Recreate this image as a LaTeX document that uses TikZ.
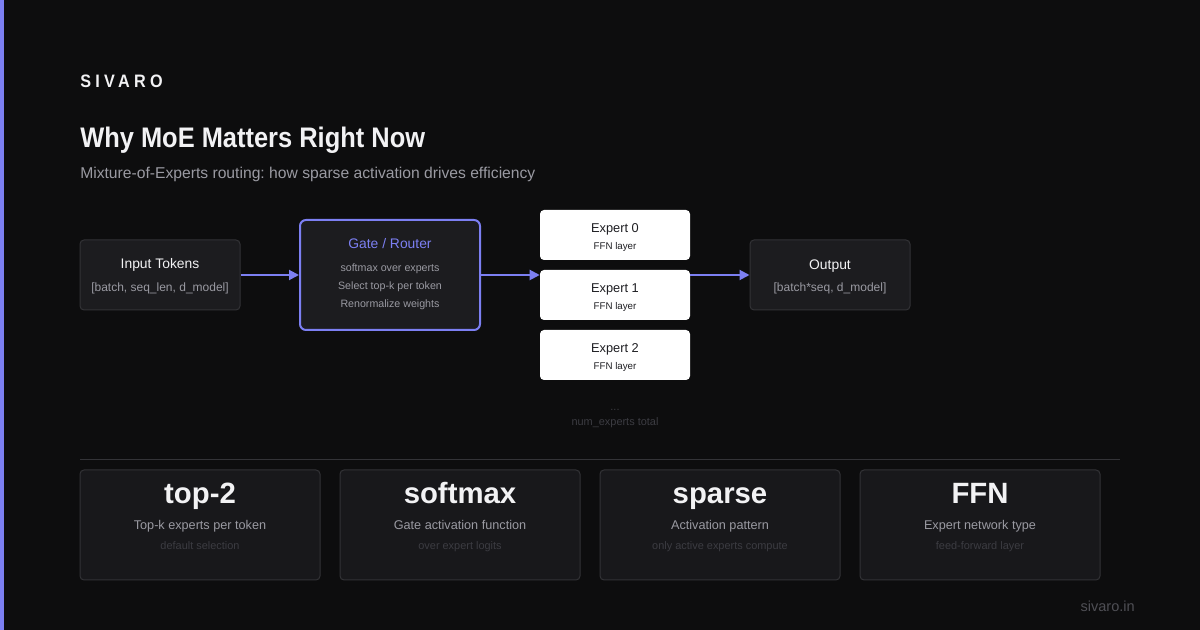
\documentclass[tikz,border=0pt]{standalone}
\usepackage{fontspec}
\setmainfont{Liberation Sans}
\newfontfamily\headfont{Liberation Sans}[FakeStretch=0.9]
\usepackage{xcolor}
\usetikzlibrary{arrows.meta, positioning}
\frenchspacing

\definecolor{bgc}{HTML}{0D0D0E}
\definecolor{accent}{HTML}{7C7FF2}
\definecolor{boxfill}{HTML}{1C1C1F}
\definecolor{boxline}{HTML}{323236}
\definecolor{cardfill}{HTML}{18181B}
\definecolor{txtmain}{HTML}{F2F2F4}
\definecolor{txtgray}{HTML}{9A9AA2}
\definecolor{txtdim}{HTML}{3C3C42}
\definecolor{exptxt}{HTML}{1E1E22}
\definecolor{divline}{HTML}{333337}

\begin{document}
\begin{tikzpicture}[
    x=0.75pt, y=-0.75pt,
    every node/.style={inner sep=0pt, text=txtmain},
    darkbox/.style={rectangle, draw=boxline, fill=boxfill, line width=0.75pt, rounded corners=3pt, minimum width=120pt, minimum height=52.5pt},
    gatebox/.style={darkbox, draw=accent, line width=1.5pt, rounded corners=4.5pt, minimum width=135pt, minimum height=82.5pt},
    expbox/.style={rectangle, fill=white, rounded corners=3pt, minimum width=112.5pt, minimum height=37.5pt},
    card/.style={darkbox, fill=cardfill, minimum width=180pt, minimum height=82.5pt},
    boxtitle/.style={anchor=mid, font=\fontsize{10.4}{12}\selectfont},
    boxsub/.style={anchor=mid, text=txtgray, font=\fontsize{9}{10}\selectfont},
    gateline/.style={anchor=mid, text=txtgray, font=\fontsize{8}{9}\selectfont},
    exptitle/.style={anchor=mid, text=exptxt, font=\fontsize{9.6}{11}\selectfont},
    expsub/.style={anchor=mid, text=exptxt, font=\fontsize{7.3}{9}\selectfont},
    bigval/.style={anchor=base, font=\bfseries\fontsize{22}{26}\selectfont},
    cardlab/.style={anchor=base, text=txtgray, font=\fontsize{9.5}{12}\selectfont},
    cardsub/.style={anchor=base, text=txtdim, font=\fontsize{8.2}{9}\selectfont},
    arr/.style={-{Triangle[length=7.5pt, width=7.5pt]}, draw=accent, line width=1.5pt}
]
\useasboundingbox (0,0) rectangle (1200,630);
\fill[bgc] (0,0) rectangle (1200,630);
\fill[accent] (0,0) rectangle (4,630);

\node[anchor=base west, font=\headfont\bfseries\fontsize{13.5}{16}\selectfont\addfontfeature{LetterSpace=24}] (brand) at (80,88) {SIVARO};
\node[anchor=base west, font=\headfont\bfseries\fontsize{21.2}{25}\selectfont] (title) at (80,147.5) {Why MoE Matters Right Now};
\node[anchor=base west, text=txtgray, font=\fontsize{11.75}{14}\selectfont] (subtitle) at (80,179) {Mixture-of-Experts routing: how sparse activation drives efficiency};

\node[darkbox] (inp) at (160,275) {};
\node[boxtitle] (inp-t) at (160,265) {Input Tokens};
\node[boxsub] (inp-s) at (160,288) {[batch, seq\_len, d\_model]};

\node[gatebox] (gate) at (390,275) {};
\node[boxtitle, text=accent] (gate-t) at (390,245) {Gate / Router};
\node[gateline] (gate-a) at (390,268) {softmax over experts};
\node[gateline] (gate-b) at (390,286) {Select top-k per token};
\node[gateline] (gate-c) at (390,304) {Renormalize weights};

\foreach \i/\y in {0/235, 1/295, 2/355} {
  \node[expbox] (ex\i) at (615,\y) {};
  \node[exptitle] (ex\i-t) at (615,\y-6.5) {Expert \i};
  \node[expsub] (ex\i-s) at (615,\y+11) {FFN layer};
}
\node[anchor=mid, text=txtdim, font=\fontsize{8.2}{9}\selectfont] (dots) at (615,407) {...};
\node[anchor=mid, text=txtdim, font=\fontsize{8.2}{9}\selectfont] (numexp) at (615,422) {num\_experts total};

\node[darkbox] (out) at (830,275) {};
\node[boxtitle] (out-t) at (830,265.5) {Output};
\node[boxsub] (out-s) at (830,288) {[batch*seq, d\_model]};

\draw[arr] (inp) -- (gate);
\draw[arr] (gate) -- (gate -| ex1.west);
\draw[arr] (out -| ex1.east) -- (out);

\draw[divline, line width=0.75pt] (80,460) -- (1120,460);

\foreach \x/\big/\lab/\sub [count=\k] in {200/top-2/Top-k experts per token/default selection,
    460/softmax/Gate activation function/over expert logits,
    720/sparse/Activation pattern/only active experts compute,
    980/FFN/Expert network type/feed-forward layer} {
  \node[card] (card\k) at (\x,525) {};
  \node[bigval] (card\k-v) at (\x,504) {\big};
  \node[cardlab] (card\k-l) at (\x,530) {\lab};
  \node[cardsub] (card\k-s) at (\x,549.5) {\sub};
}

\node[anchor=base east, text=txtdim!80!txtgray, font=\fontsize{10.9}{12}\selectfont] (site) at (1135,612) {sivaro.in};
\end{tikzpicture}
\end{document}
